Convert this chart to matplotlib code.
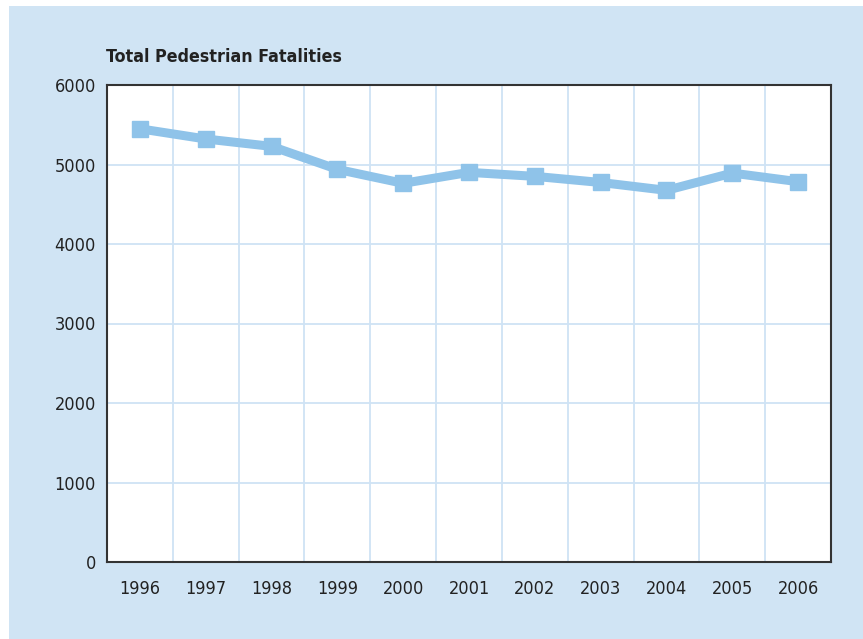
import matplotlib
matplotlib.use("Agg")
import matplotlib.pyplot as plt
from matplotlib.patches import Rectangle
from matplotlib.ticker import FixedLocator

years = [1996, 1997, 1998, 1999, 2000, 2001, 2002, 2003, 2004, 2005, 2006]
fatalities = [5449, 5321, 5228, 4939, 4763, 4901, 4851, 4774, 4675, 4892, 4784]
y_ticks = [0, 1000, 2000, 3000, 4000, 5000, 6000]
title = "Total Pedestrian Fatalities"

FONT = ['Liberation Sans Narrow', 'DejaVu Sans']
TXT = '#222222'

fig = plt.figure(figsize=(8.63, 6.39), dpi=100, facecolor='white')
fig.patches.append(Rectangle((9/863, 0), 1 - 9/863, 1 - 6/639, transform=fig.transFigure,
                             facecolor='#d0e4f4', edgecolor='none', zorder=-5))

ax = fig.add_axes([107/863, 1 - 562/639, (831-107)/863, (562-85)/639])
ax.set_zorder(2)
ax.set_facecolor('white')
ax.plot(years, fatalities, color='#8fc3e9', lw=6.5, marker='s', ms=11.5, solid_joinstyle='miter',
        zorder=3, clip_on=False)
ax.set_xlim(years[0] - 0.5, years[-1] + 0.5)
ax.set_ylim(0, 6000)
ax.set_yticks(y_ticks)
ax.set_xticks(years)
ax.set_xticklabels([str(y) for y in years])
ax.xaxis.set_minor_locator(FixedLocator([y + 0.5 for y in years[:-1]]))
ax.grid(False)
ax.yaxis.grid(True, which='major', color='#cfe3f5', lw=1.3)
ax.xaxis.grid(True, which='minor', color='#cfe3f5', lw=1.3)
ax.tick_params(axis='both', which='both', length=0, colors=TXT)
ax.tick_params(axis='y', pad=8)
ax.tick_params(axis='x', pad=13)
for lab in ax.get_xticklabels() + ax.get_yticklabels():
    lab.set_family(FONT)
    lab.set_fontsize(13)
    lab.set_stretch('condensed')
for s in ax.spines.values():
    s.set_color('#333333')
    s.set_linewidth(1.5)

fig.text(106/863, 1 - 57/639, title, ha='left', va='center', family=FONT,
         fontsize=12.8, fontweight='bold', color=TXT, stretch='condensed')

fig.savefig('out.png', dpi=100, facecolor=fig.get_facecolor())
